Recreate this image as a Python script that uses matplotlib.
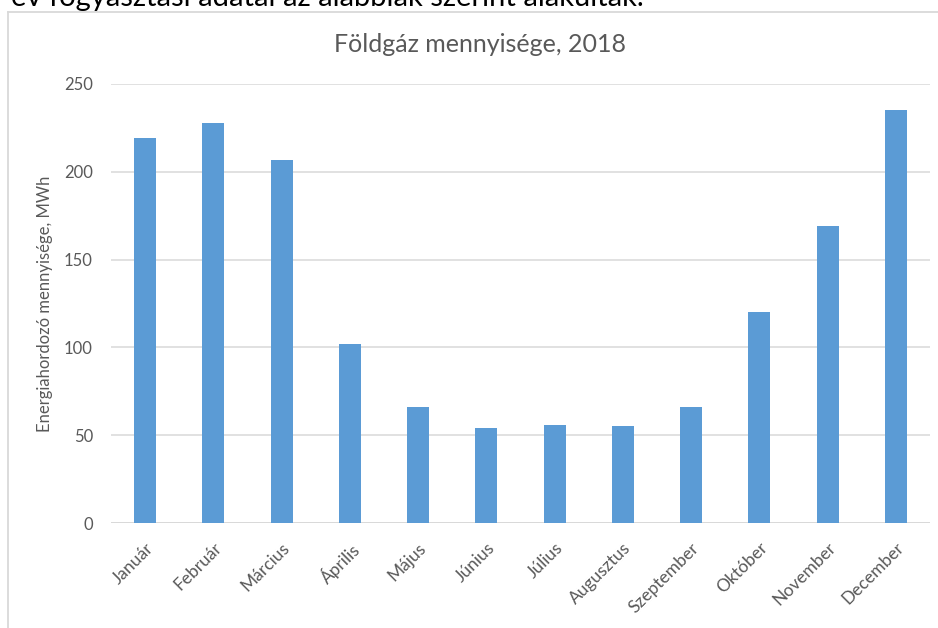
import matplotlib.pyplot as plt
from matplotlib.lines import Line2D

# Havi földgáz fogyasztás, MWh
honapok = ['Január', 'Február', 'Március', 'Április', 'Május', 'Június',
           'Július', 'Augusztus', 'Szeptember', 'Október', 'November', 'December']
ertekek = [219, 228, 207, 102, 66, 54, 56, 55, 66, 120, 169, 235]
y_tickek = [0, 50, 100, 150, 200, 250]

W, H = 938, 628
plt.rcParams['font.family'] = ['Lato', 'DejaVu Sans']

fig = plt.figure(figsize=(W / 100, H / 100), dpi=100)
fig.patch.set_facecolor('white')

# A dokumentum szövegének levágott sora a kép tetején
fig.text(11 / W, 1 - 6 / H, 'év fogyasztási adatai az alábbiak szerint alakultak.',
         fontsize=21, color='black', va='baseline', ha='left')

# diagram kerete (Excel stílus)
keret = '#d9d9d9'
fig.add_artist(Line2D([8 / W, 8 / W], [0, 1 - 12 / H], transform=fig.transFigure,
                      color=keret, linewidth=1.3))
fig.add_artist(Line2D([8 / W, 1], [1 - 12 / H, 1 - 12 / H], transform=fig.transFigure,
                      color=keret, linewidth=1.3))

ax = fig.add_axes([111 / W, 1 - 523 / H, (930 - 111) / W, (523 - 84) / H])
x = range(len(honapok))
ax.bar(x, ertekek, width=0.32, color='#5b9bd5', zorder=3)

ax.set_xlim(-0.5, len(honapok) - 0.5)
ax.set_ylim(0, 250)
ax.set_yticks(y_tickek)
ax.set_yticklabels([str(v) for v in y_tickek])
ax.set_xticks(list(x))
ax.set_xticklabels(honapok, rotation=45, ha='right', rotation_mode='anchor')

ax.tick_params(axis='both', length=0, colors='#595959')
ax.tick_params(axis='y', pad=13, labelsize=12)
ax.tick_params(axis='x', pad=12, labelsize=12.5)
ax.grid(axis='y', color=keret, linewidth=1.1, zorder=0)
for s in ax.spines.values():
    s.set_visible(False)
ax.axhline(0, color=keret, linewidth=1.3, zorder=2)

ax.set_ylabel('Energiahordozó mennyisége, MWh', fontsize=12, color='#595959')
ax.yaxis.set_label_coords(-(111 - 53) / (930 - 111), 0.5)
fig.text(480 / W, 1 - 45 / H, 'Földgáz mennyisége, 2018', fontsize=18,
         color='#595959', ha='center', va='center')

fig.savefig('out.png', dpi=100, facecolor='white')
